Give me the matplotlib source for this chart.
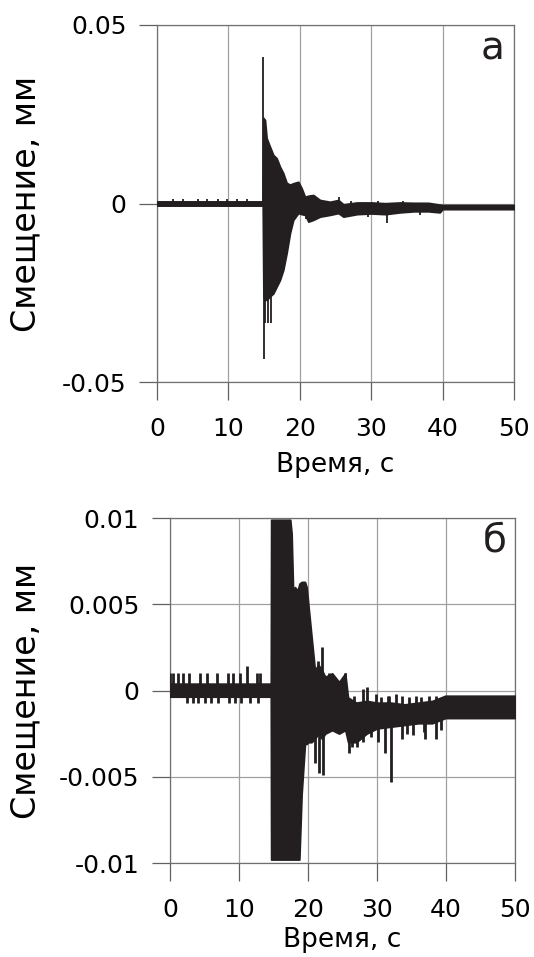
import numpy as np
import matplotlib
matplotlib.use('Agg')
from matplotlib import pyplot as plt

# panel "а": envelope of the displacement record, mm
t_a = [0, 14.8, 14.9, 15.13, 15.36, 15.83, 16.29, 16.76, 17.23, 17.69, 18.16, 18.63, 19.09, 19.79,
       20.26, 20.73, 21.2, 21.89, 22.83, 24.23, 25.4, 26.1, 28.0, 30.0, 32.0, 34.0, 36.0, 38.0,
       39.6, 40.0, 50.0]
hi_a = [0.0006, 0.0006, 0.024, 0.0234, 0.0183, 0.0159, 0.0136, 0.0127, 0.0103, 0.0085, 0.0058,
        0.0053, 0.0057, 0.0061, 0.0043, 0.0019, 0.0022, 0.0024, 0.001, 0.0005, 0.001, -0.0002,
        0.0003, 0.0003, 0.0001, 0.0003, 0.0002, 0.0002, -0.0003, -0.0004, -0.0004]
lo_a = [-0.0006, -0.0006, -0.026, -0.027, -0.027, -0.026, -0.0252, -0.0233, -0.0214, -0.0186,
        -0.0139, -0.0083, -0.0046, -0.0027, -0.003, -0.0032, -0.0051, -0.0046, -0.0037, -0.0032,
        -0.0027, -0.0037, -0.003, -0.0028, -0.003, -0.0025, -0.0022, -0.0022, -0.0025, -0.0016,
        -0.0016]
# single peaks sticking out of the envelope
spk_t_a = [2.3, 3.7, 5.8, 7.0, 8.6, 9.8, 11.2, 12.6, 14.88, 14.92, 15.15, 15.6, 15.9,
           20.9, 21.4, 25.5, 27.2, 29.5, 31.0, 32.2, 34.5, 36.8, 39.5]
spk_v_a = [0.0013, 0.0012, 0.0013, 0.0012, 0.0012, 0.0014, 0.0012, 0.0012, 0.041, -0.0436,
           -0.0335, -0.0335, -0.0335, -0.0042, -0.0053, 0.0017, 0.0008, -0.0038, 0.0007,
           -0.0055, 0.0007, -0.0033, -0.0023]

# panel "б"
t_b = [0, 14.6, 14.65, 17.43, 17.63, 17.87, 18.1, 18.5, 18.75, 19.08, 19.56, 19.8, 20.05, 20.5,
       21.0, 21.5, 22.0, 22.5, 23.5, 24.5, 25.4, 25.8, 27.0, 28.5, 30.0, 32.0, 34.0, 36.0, 38.0,
       39.9, 50.0]
hi_b = [0.0004, 0.0004, 0.0099, 0.0099, 0.0091, 0.0054, 0.006, 0.0058, 0.0062, 0.0063, 0.0063,
        0.006, 0.005, 0.0032, 0.0012, 0.0015, 0.0012, 0.0008, 0.001, 0.0005, 0.001, -0.0004,
        -0.0007, -0.0006, -0.0007, -0.0007, -0.0008, -0.0007, -0.0006, -0.0003, -0.0003]
lo_b = [-0.00036, -0.00036, -0.0098, -0.0098, -0.0098, -0.0098, -0.0098, -0.0098, -0.0098,
        -0.006, -0.0031, -0.0031, -0.003, -0.003, -0.0028, -0.0025, -0.0028, -0.0025, -0.0023,
        -0.0025, -0.0023, -0.003, -0.003, -0.0025, -0.0022, -0.0021, -0.002, -0.0019, -0.0019,
        -0.0016, -0.0016]
spk_t_b = [0.0, 0.5, 1.2, 1.9, 2.7, 4.35, 5.3, 6.8, 8.45, 9.2, 10.1, 11.1, 12.6, 13.0,
           2.4, 3.4, 4.1, 5.1, 6.0, 7.0, 8.6, 9.4, 10.3, 11.6, 12.8,
           21.5, 22.0, 23.0, 24.2, 25.4, 26.6, 27.9, 28.5, 29.8, 30.6, 31.6, 31.8, 32.7, 33.6,
           34.6, 35.6, 36.4, 37.6, 38.6,
           21.0, 21.6, 22.2, 25.9, 26.4, 27.1, 27.9, 29.2, 30.2, 31.2, 32.1, 33.6, 34.3, 35.2,
           36.8, 37.0, 38.5, 39.3]
spk_v_b = [0.001, 0.001, 0.001, 0.001, 0.001, 0.001, 0.001, 0.001, 0.001, 0.001, 0.001, 0.0014,
           0.001, 0.001,
           -0.00074, -0.00074, -0.00074, -0.00074, -0.00074, -0.00074, -0.00074, -0.00074,
           -0.00074, -0.00074, -0.00074,
           0.0017, 0.0025, 0.001, 0.0005, 0.001, -0.0003, 0.0001, 0.0002, -0.0002, -0.0004,
           -0.0003, -0.0003, -0.0002, -0.0003, -0.0004, -0.0003, -0.0004, -0.0003, -0.0003,
           -0.0042, -0.0048, -0.0049, -0.0036, -0.0033, -0.0033, -0.0030, -0.0027, -0.0030,
           -0.0036, -0.0053, -0.0028, -0.0025, -0.0026, -0.0024, -0.0028, -0.0028, -0.0023]

x_ticks = [0, 10, 20, 30, 40, 50]
y_ticks_a = [-0.05, 0, 0.05]
y_ticks_b = [-0.01, -0.005, 0, 0.005, 0.01]
y_labels_a = ['-0.05', '0', '0.05']
y_labels_b = ['-0.01', '-0.005', '0', '0.005', '0.01']

ink = '#231f20'
plt.rcParams['font.family'] = ['DejaVu Sans']

fig = plt.figure(figsize=(5.34, 9.57), dpi=100)
ax_a = fig.add_axes([0.294, 0.6008, 0.6685, 0.3731])
ax_b = fig.add_axes([0.3184, 0.0982, 0.646, 0.3605])


def draw_panel(ax, t, hi, lo, spk_t, spk_v, yticks, ylabels, letter, ylab_x, spk_lw, xpad):
    ax.fill_between(t, lo, hi, color=ink, lw=1.2, zorder=3)
    # spikes start from the middle of the band
    mid = np.interp(spk_t, t, (np.asarray(hi) + np.asarray(lo)) / 2)
    spk_v = np.asarray(spk_v)
    ax.vlines(spk_t, np.minimum(spk_v, mid), np.maximum(spk_v, mid), color=ink, lw=spk_lw, zorder=3)
    ax.set_xlim(0, 50)
    ax.set_ylim(yticks[0], yticks[-1])
    ax.set_xticks(x_ticks)
    ax.set_yticks(yticks)
    ax.set_yticklabels(ylabels)
    ax.grid(True, color='#a0a0a0', lw=0.9)
    for s in ax.spines.values():
        s.set_color('#707070')
        s.set_linewidth(0.9)
    ax.tick_params(direction='out', length=13, width=0.9, color='#606060',
                   labelsize=18, pad=9)
    ax.tick_params(axis='x', pad=12)
    ax.set_xlabel('Время, с', fontsize=19, labelpad=xpad)
    ax.set_ylabel('Смещение, мм', fontsize=24)
    ax.yaxis.set_label_coords(ylab_x, 0.5)
    ax.text(0.94, 0.935, letter, transform=ax.transAxes, fontsize=28,
            ha='center', va='center', color=ink)


draw_panel(ax_a, t_a, hi_a, lo_a, spk_t_a, spk_v_a, y_ticks_a, y_labels_a, 'а', -0.32, 1.3, 8)
draw_panel(ax_b, t_b, hi_b, lo_b, spk_t_b, spk_v_b, y_ticks_b, y_labels_b, 'б', -0.37, 2.0, 4)

fig.savefig('out.png', dpi=100, facecolor='white')
